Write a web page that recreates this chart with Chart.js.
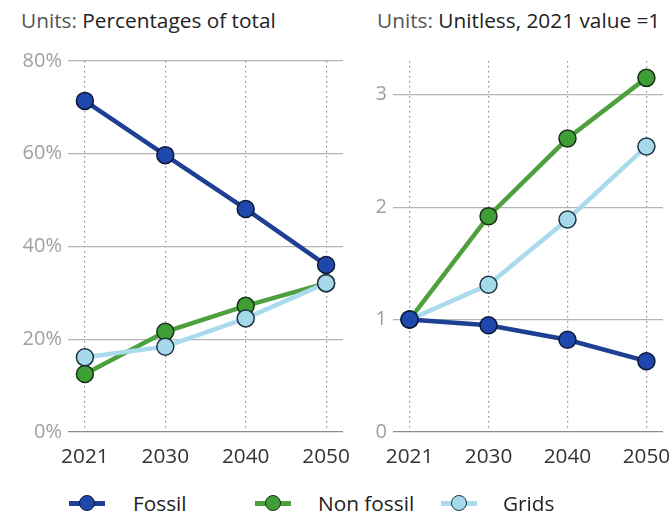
<!DOCTYPE html>
<html><head><meta charset="utf-8">
<script src="https://cdn.jsdelivr.net/npm/chart.js@4/dist/chart.umd.min.js"></script>
<style>
html,body{margin:0;padding:0;background:#fff;width:669px;height:514px;overflow:hidden;font-family:"Open Sans",Lato,sans-serif;}
.cw{position:absolute;top:0;}
.title{position:absolute;top:6px;font-size:20.8px;color:#222;white-space:nowrap;}
.title span{color:#555;}
.leg{position:absolute;top:490px;height:26px;font-size:20.8px;color:#222;}
.li{position:absolute;top:0;display:flex;align-items:center;height:26px;white-space:nowrap;}
.ic{position:relative;width:36px;height:26px;}
.ic .ln{position:absolute;left:0;right:0;top:11px;height:5px;}
.ic .dt{position:absolute;left:10px;top:5px;width:14px;height:14px;border-radius:50%;border:1.5px solid #111;}
</style></head><body>
<div class="title" style="left:21px"><span>Units:</span> Percentages of total</div>
<div class="title" style="left:377px"><span>Units:</span> Unitless, 2021 value =1</div>
<div class="cw" style="left:0;width:362px;height:480px"><canvas id="c1" width="362" height="480"></canvas></div>
<div class="cw" style="left:345px;width:324px;height:480px"><canvas id="c2" width="324" height="480"></canvas></div>
<div class="leg" id="leg"></div>
<script>
const categories = ["2021","2030","2040","2050"];
const seriesNames = ["Fossil","Non fossil","Grids"];
// Left panel: percentages of total
const shareFossil = [71.4, 59.7, 48.1, 36.0];
const shareNonFossil = [12.5, 21.6, 27.2, 32.1];
const shareGrids = [16.1, 18.4, 24.5, 32.1];
const shareTicks = [0, 20, 40, 60, 80];
// Right panel: index, 2021 = 1
const idxFossil = [1.0, 0.95, 0.82, 0.63];
const idxNonFossil = [1.0, 1.92, 2.61, 3.15];
const idxGrids = [1.0, 1.31, 1.89, 2.54];
const idxTicks = [0, 1, 2, 3];

const styles = [
  {line:'#1d3f94', fill:'#1f48ad', edge:'#0c1838'},
  {line:'#4ea03e', fill:'#3f9f36', edge:'#173015'},
  {line:'#a9dbec', fill:'#a6d9ec', edge:'#1c3440'}
];
const FONT = "'Open Sans'";

function pts(arr){ return arr.map((v,i)=>({x:i,y:v})); }
function ds(i, arr, order){
  const s = styles[i];
  return {label:seriesNames[i], data:pts(arr), borderColor:s.line, backgroundColor:s.fill,
    pointBackgroundColor:s.fill, pointBorderColor:s.edge, pointBorderWidth:1.5,
    pointRadius:8.5, pointHoverRadius:8.5, borderWidth:4.5, tension:0, order:order, clip:false};
}

function makeChart(id, datasets, yMax, yTicks, yFmt, yWidth, padRight){
  return new Chart(document.getElementById(id), {
    type:'line',
    data:{datasets},
    options:{
      responsive:false, animation:false, events:[],
      layout:{autoPadding:false, padding:{top:61, right:padRight, left:0, bottom:0}},
      plugins:{legend:{display:false}, tooltip:{enabled:false}},
      scales:{
        x:{type:'linear', min:-0.21, max:3.21,
          afterBuildTicks:s=>{s.ticks = categories.map((_,i)=>({value:i}));},
          afterFit:s=>{s.height = 48; s.paddingLeft = 0; s.paddingRight = 0;},
          grid:{color:'#8a8a8a', lineWidth:1.2, drawTicks:false},
          border:{display:false, dash:[1.5,3.5]},
          ticks:{padding:13, color:'#333', font:{family:FONT, size:20.8}, callback:v=>categories[v], maxRotation:0, autoSkip:false}
        },
        y:{min:0, max:yMax,
          afterBuildTicks:s=>{s.ticks = yTicks.map(v=>({value:v}));},
          afterFit:s=>{s.width = yWidth; s.paddingTop = 0; s.paddingBottom = 0;},
          grid:{color:ctx=>ctx.tick && ctx.tick.value===0 ? '#8c8c8c' : '#b4b4b4', lineWidth:1.2, drawTicks:false},
          border:{display:false},
          ticks:{padding:6, color:'#a0a0a0', font:{family:FONT, size:20}, callback:yFmt}
        }
      }
    }
  });
}

const c1 = makeChart('c1', [ds(0,shareFossil,2), ds(1,shareNonFossil,1), ds(2,shareGrids,0)], 80, shareTicks, v=>v+'%', 68, 19);
const c2 = makeChart('c2', [ds(0,idxFossil,0), ds(1,idxNonFossil,2), ds(2,idxGrids,1)], 3.3, idxTicks, v=>String(v), 48, 6);

// legend
const leg = document.getElementById('leg');
const legX = [{icon:69,text:133},{icon:255,text:318},{icon:441,text:503}];
seriesNames.forEach((n,i)=>{
  const s = styles[i];
  const d = document.createElement('div');
  d.className='li'; d.style.left=legX[i].icon+'px';
  d.innerHTML = '<div class="ic"><div class="ln" style="background:'+s.line+'"></div><div class="dt" style="background:'+s.fill+';border-color:'+s.edge+'"></div></div>';
  leg.appendChild(d);
  const t = document.createElement('div');
  t.className='li'; t.style.left=legX[i].text+'px'; t.textContent=n;
  leg.appendChild(t);
});
</script>
</body></html>
